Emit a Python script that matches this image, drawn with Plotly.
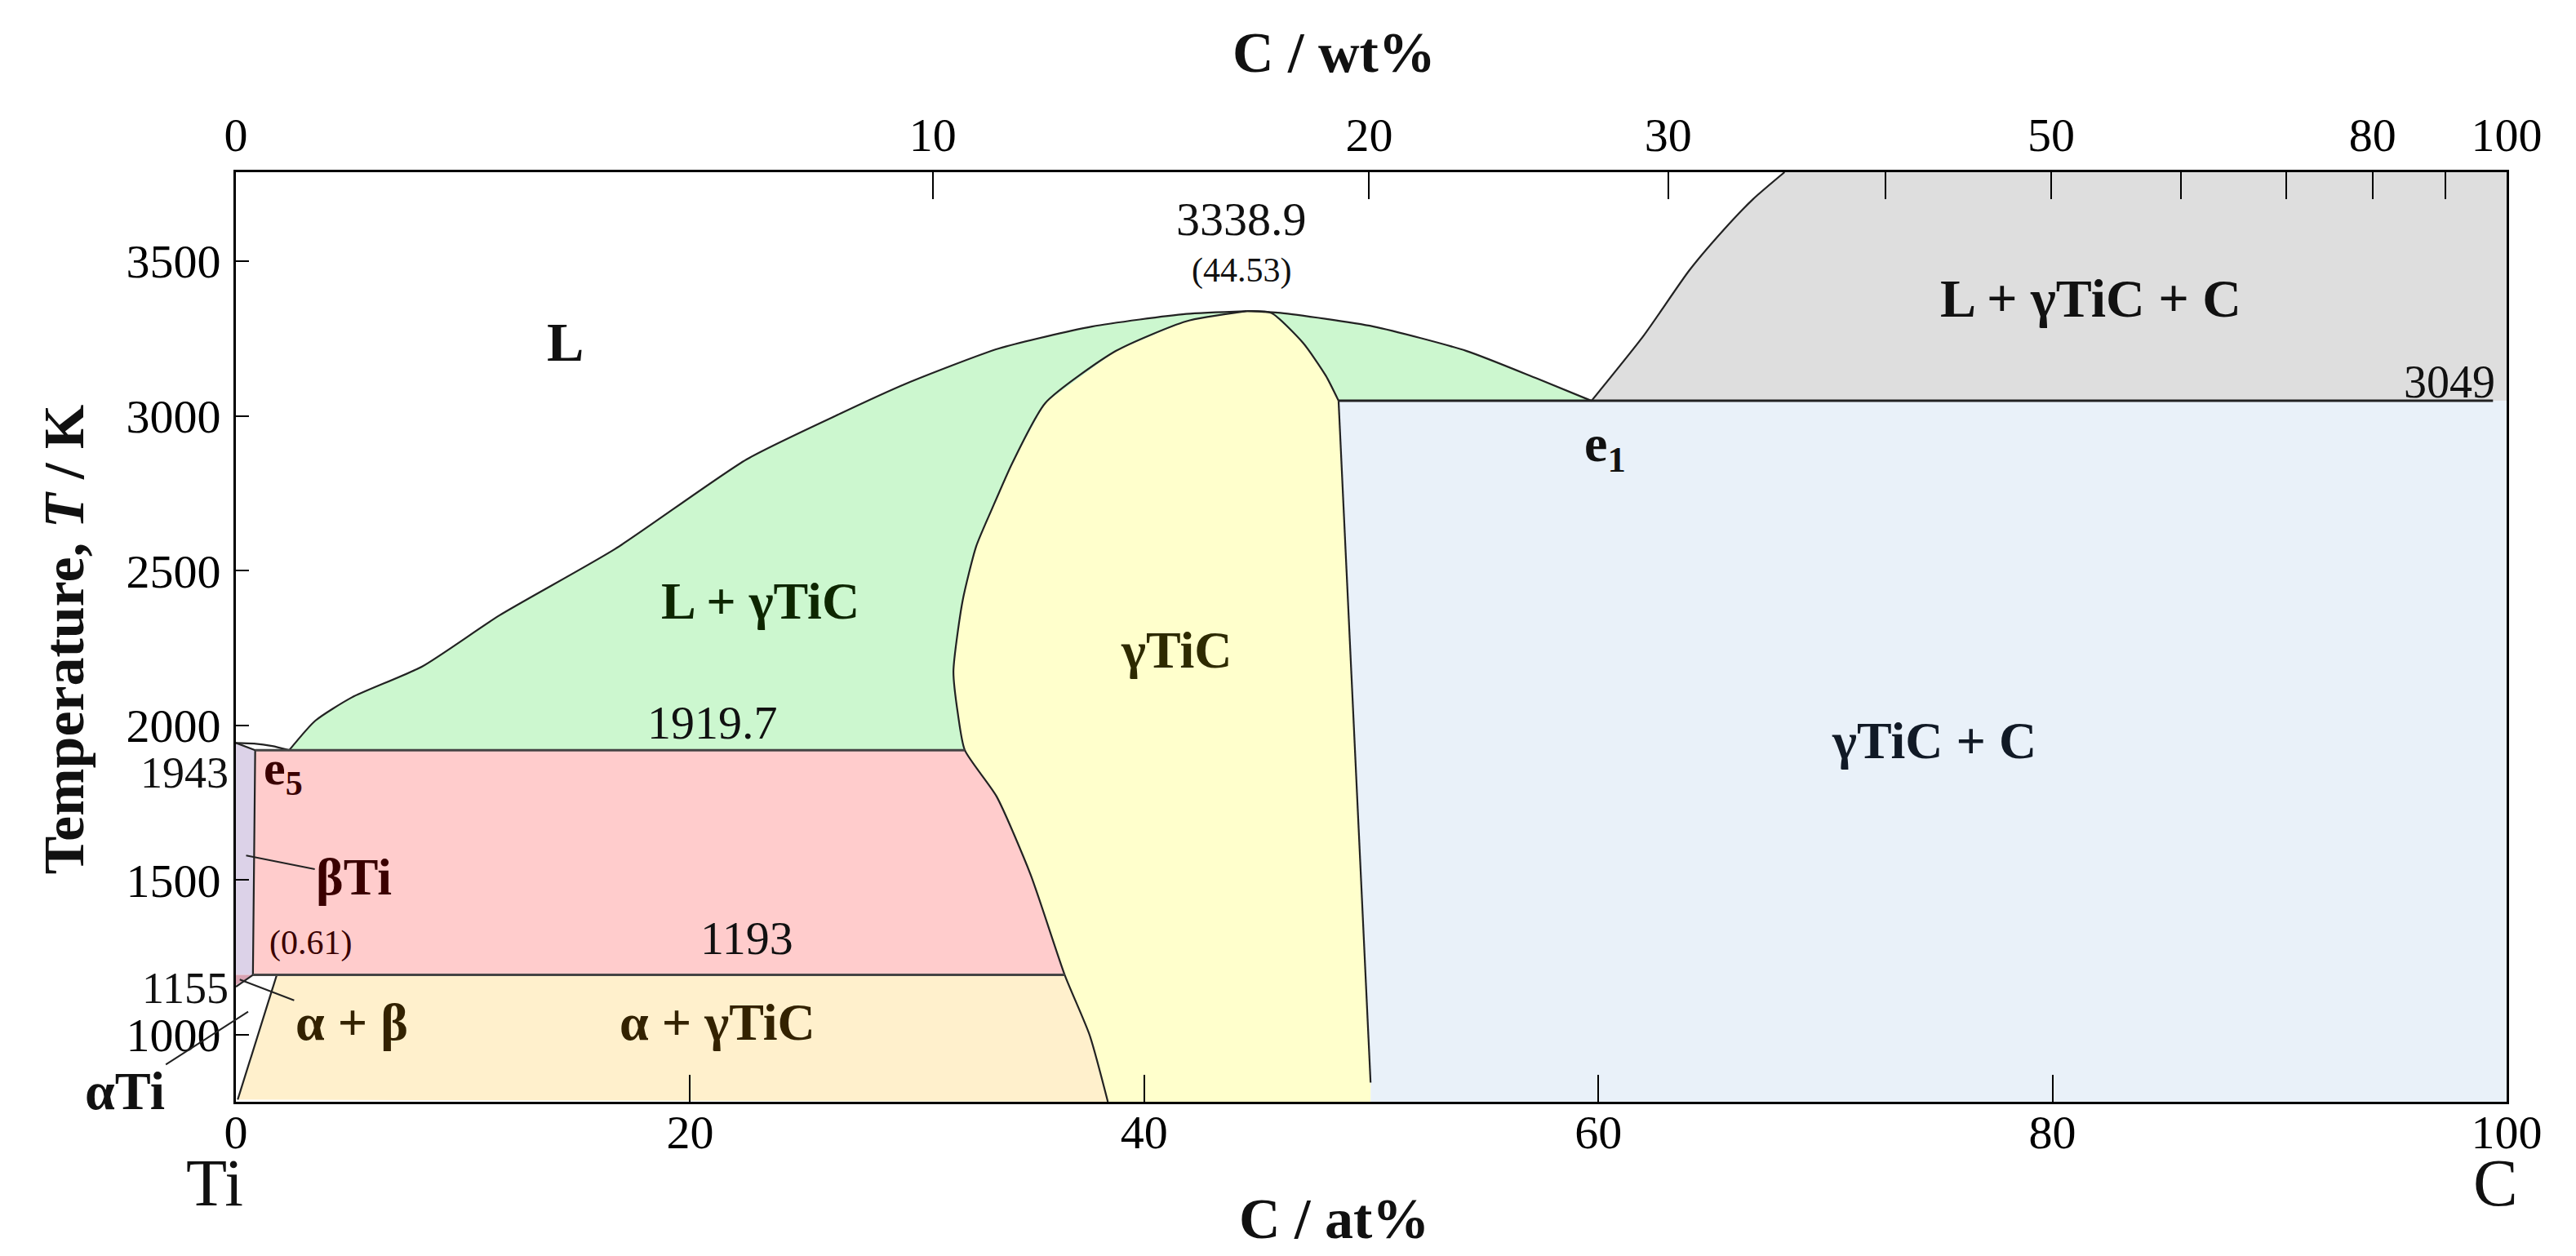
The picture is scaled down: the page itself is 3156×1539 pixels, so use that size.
import plotly.graph_objects as go

FONT = "Liberation Serif"

# invariant temperatures (K)
T_TI_MELT = 1943
T_E5 = 1919.7
T_EUTECTOID = 1193
T_ALPHA_BETA = 1155
T_E1 = 3049
T_MAX = 3338.9
X_MAX = 44.53
X_E5 = 2.35
X_E1 = 59.7

Y_MIN, Y_MAX = 783, 3788

# phase boundaries (at% C, T in K)
liq_left_x = [X_E5, 3.5, 5.1, 8.2, 11.6, 16.7, 22.5, 26.6, 29.5, 33.6, 37.7, 41.85, X_MAX]
liq_left_t = [T_E5, 2015, 2090, 2190, 2355, 2570, 2860, 3007, 3104, 3218, 3289, 3330, T_MAX]

liq_right_x = [X_MAX, 46.0, 50.1, 54.2, 57.3, X_E1]
liq_right_t = [T_MAX, 3333, 3289, 3210, 3121, T_E1]

tic_left_x = [X_MAX, 41.85, 38.75, 35.65, 34.2, 33.3, 32.6, 32.0, 31.6, 31.8, 32.1, 33.5, 35.0, 36.5, 37.6, 38.4]
tic_left_t = [T_MAX, 3306, 3210, 3042, 2849, 2700, 2578, 2401, 2174, 2035, T_E5, 1770, 1517, T_EUTECTOID, 998, Y_MIN]

tic_right_x = [X_MAX, 45.6, 47.0, 48.0, 48.56, 49.97]
tic_right_t = [T_MAX, 3333, 3236, 3130, T_E1, 845]

liq_c_x = [X_E1, 62.0, 64.0, 65.5, 66.8, 68.2]
liq_c_t = [T_E1, 3260, 3470, 3600, 3700, Y_MAX]

ti_liq_x = [0, 0.8, 1.6, X_E5]
ti_liq_t = [T_TI_MELT, 1941, 1933, T_E5]

beta_x = [0, 0.85, 0.75]
beta_t = [T_TI_MELT, T_E5, T_EUTECTOID]

alpha_x = [1.8, 0.08]
alpha_t = [T_EUTECTOID, 790]

ab_x = [0, 0.75]
ab_t = [T_ALPHA_BETA, T_EUTECTOID]

# top axis: wt% C
wt_major = [0, 10, 20, 30, 50, 80, 100]
wt_minor = [40, 60, 70, 90]
M_C, M_TI = 12.011, 47.867


def wt_to_at(w):
    nc = w / M_C
    nt = (100 - w) / M_TI
    return 100 * nc / (nc + nt)


fig = go.Figure()


def area(xs, ts, color):
    fig.add_trace(go.Scatter(x=xs, y=ts, fill="toself", fillcolor=color, mode="lines",
                             line=dict(width=0), hoverinfo="skip"))


def line(xs, ts, width=2.2, color="#222222", shape="linear"):
    fig.add_trace(go.Scatter(x=xs, y=ts, mode="lines", hoverinfo="skip",
                             line=dict(width=width, color=color, shape=shape, smoothing=0.6)))


# fills
area(liq_c_x + [100, 100], liq_c_t + [Y_MAX, T_E1], "#dedede")
area([tic_right_x[-2], tic_right_x[-1], tic_right_x[-1], 100, 100],
     [T_E1, tic_right_t[-1], Y_MIN, Y_MIN, T_E1], "#e9f1f9")
area(liq_left_x + tic_left_x[1:11], liq_left_t + tic_left_t[1:11], "#ccf7cf")
area(liq_right_x + [tic_right_x[4]] + tic_right_x[3::-1],
     liq_right_t + [tic_right_t[4]] + tic_right_t[3::-1], "#ccf7cf")
area(tic_left_x + [tic_right_x[-1]] + tic_right_x[::-1],
     tic_left_t + [Y_MIN] + tic_right_t[::-1], "#ffffcc")
area([0.85] + tic_left_x[10:14] + [0.75], [T_E5] + tic_left_t[10:14] + [T_EUTECTOID], "#ffcccc")
area([1.8] + tic_left_x[13:] + [0.08], [T_EUTECTOID] + tic_left_t[13:] + [790], "#fff0cc")
area(beta_x + [0], beta_t + [T_EUTECTOID], "#dcd2e8")
area([0, 0.75, 0], [T_EUTECTOID, T_EUTECTOID, 1160], "#d9a3b3")

# boundaries
line(liq_left_x, liq_left_t, shape="spline")
line(liq_right_x, liq_right_t, shape="spline")
line(tic_left_x, tic_left_t, shape="spline")
line(tic_right_x[:5], tic_right_t[:5], shape="spline")
line(tic_right_x[4:], tic_right_t[4:])
line(liq_c_x, liq_c_t, shape="spline")
line(ti_liq_x, ti_liq_t, shape="spline")
line(beta_x, beta_t)
line(alpha_x, alpha_t)
line(ab_x, ab_t)
line([0.85, 32.1], [T_E5, T_E5], 3, "#444444")
line([0.75, 36.5], [T_EUTECTOID, T_EUTECTOID], 3, "#444444")
line([48.56, 99.4], [T_E1, T_E1], 3, "#222222")

# dummy trace so the top axis is drawn
fig.add_trace(go.Scatter(x=[0, 100], y=[Y_MIN, Y_MIN], xaxis="x2", mode="lines",
                         line=dict(width=0), hoverinfo="skip"))


def label(text, x, y, size=64, color="#111111", bold=True, **kw):
    t = "<b>" + text + "</b>" if bold else text
    d = dict(x=x, y=y, text=t, showarrow=False, font=dict(family=FONT, size=size, color=color))
    d.update(kw)
    return d


def plabel(text, x, y, size, bold=True, **kw):
    return label(text, x, y, size, bold=bold, xref="paper", yref="paper",
                 xanchor="center", yanchor="middle", **kw)


anns = [
    label("L", 14.5, 3238, 68),
    label("3338.9", 44.3, 3636, 58, bold=False),
    label("(44.53)", 44.3, 3470, 42, bold=False),
    label("L + γTiC + C", 81.7, 3381, 66),
    label("3049", 97.5, 3110, 56, bold=False),
    label("e<sub>1</sub>", 60.3, 2900, 64),
    label("L + γTiC", 23.1, 2402, 64, "#0d2600"),
    label("γTiC", 41.4, 2242, 64, "#2e2a00"),
    label("1919.7", 21.0, 2009, 58, bold=False),
    label("γTiC + C", 74.8, 1950, 64, "#111a26"),
    label("e<sub>5</sub>", 2.1, 1850, 60, "#3a0000"),
    label("(0.61)", 3.3, 1296, 42, bold=False, color="#3a0000"),
    label("1193", 22.5, 1311, 58, bold=False),
    label("α + γTiC", 21.2, 1040, 64, "#332200"),
    label("1943", -0.0025, 1845, 54, bold=False, xref="paper", xanchor="right"),
    label("1155", -0.0025, 1150, 54, bold=False, xref="paper", xanchor="right"),
    plabel("Ti", -0.0095, -0.087, 82, bold=False),
    plabel("C", 0.995, -0.087, 82, bold=False),
    plabel("C / at%", 0.4835, -0.126, 70),
    plabel("C / wt%", 0.4835, 1.1287, 70),
    plabel("Temperature, <i>T</i> / K", -0.0757, 0.498, 70, textangle=-90),
]

# labels with leader lines
leader = dict(showarrow=True, arrowhead=0, arrowwidth=2, arrowcolor="#222222", axref="x", ayref="y",
              standoff=0, startstandoff=0)
anns.append(dict(label("βTi", 0.45, 1579, 64, "#3a0000"), ax=5.2, ay=1510, **leader))
anns.append(dict(label("α + β", 0.17, 1178, 64, "#332200"), ax=5.1, ay=1040, **leader))
anns.append(dict(label("αTi", 0.54, 1074, 66), ax=-4.9, ay=818, **leader))

tick_style = dict(ticks="inside", tickwidth=2, tickcolor="black", showline=True, linewidth=3,
                  linecolor="black", showgrid=False, zeroline=False,
                  tickfont=dict(family=FONT, size=58))

fig.update_layout(
    width=3156, height=1539,
    margin=dict(l=281, r=93, t=203, b=197),
    plot_bgcolor="white", paper_bgcolor="white",
    showlegend=False,
    font=dict(family=FONT, size=58, color="black"),
    annotations=anns,
    xaxis=dict(range=[0, 100], tickvals=[0, 20, 40, 60, 80, 100], ticklen=33,
               ticklabelstandoff=-16, **tick_style),
    xaxis2=dict(range=[0, 100], overlaying="x", side="top",
                tickvals=[wt_to_at(w) for w in wt_major], ticktext=[str(w) for w in wt_major],
                ticklen=33,
                minor=dict(tickvals=[wt_to_at(w) for w in wt_minor], ticks="inside", ticklen=33,
                           tickwidth=2, tickcolor="black", showgrid=False),
                **tick_style),
    yaxis=dict(range=[Y_MIN, Y_MAX], tickvals=[1000, 1500, 2000, 2500, 3000, 3500], ticklen=16,
               ticklabelstandoff=4, mirror=True, **tick_style),
)

fig.write_html("out.html")
